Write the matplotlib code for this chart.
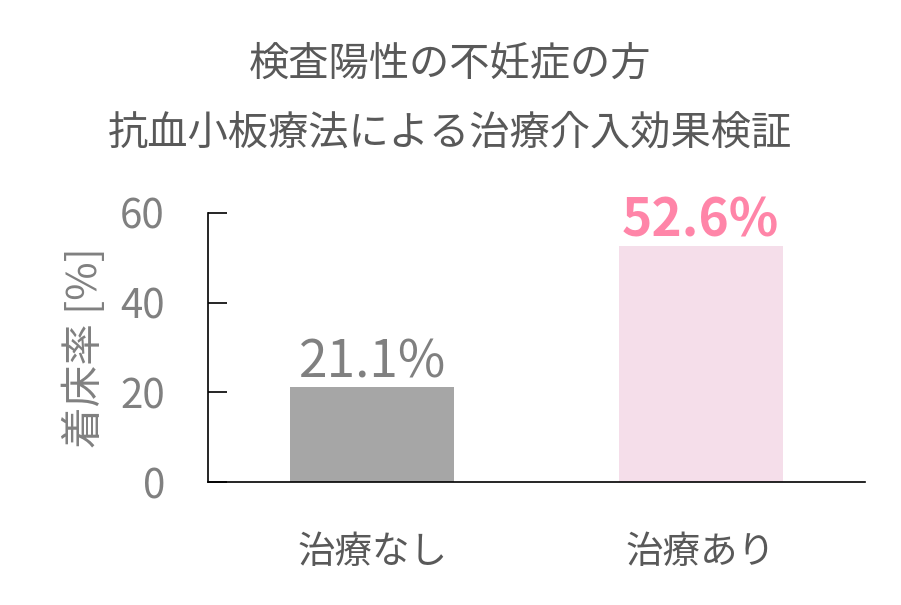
import matplotlib
matplotlib.use('Agg')
import matplotlib.pyplot as plt

plt.rcParams['font.family'] = ['Noto Sans CJK JP', 'DejaVu Sans']

# データ
categories = ['治療なし', '治療あり']
values = [21.1, 52.6]
value_labels = ['21.1%', '52.6%']
yticks = [0, 20, 40, 60]

bar_colors = ['#A6A6A6', '#F5DEEA']
label_colors = ['#808080', '#FF85A8']
label_weights = ['normal', 'bold']

fig = plt.figure(figsize=(9.01, 6.05), dpi=100, facecolor='white')
ax = fig.add_axes([0.2309, 0.2033, 0.729, 0.4447])

x = list(range(len(categories)))
ax.bar(x, values, width=0.5, color=bar_colors)

for xi, v, lab, c, w in zip(x, values, value_labels, label_colors, label_weights):
    ax.annotate(lab, xy=(xi, v), xytext=(0, 7), textcoords='offset points',
                ha='center', va='baseline', fontsize=37, color=c, fontweight=w)

ax.set_xlim(-0.5, 1.5)
ax.set_ylim(0, 60)
ax.set_yticks(yticks)
ax.set_yticklabels([str(t) for t in yticks])
ax.set_xticks(x)
ax.set_xticklabels(categories)

ax.spines['top'].set_visible(False)
ax.spines['right'].set_visible(False)
ax.spines['left'].set_linewidth(1.2)
ax.spines['bottom'].set_linewidth(1.2)

ax.tick_params(axis='y', direction='in', length=14, width=1.2, pad=31,
               labelsize=29, labelcolor='#808080')
ax.tick_params(axis='x', length=0, pad=37, labelsize=27, labelcolor='#595959')

ax.set_ylabel('着床率 [%]', fontsize=30, color='#808080', labelpad=10)

fig.text(0.5, 0.893, '検査陽性の不妊症の方', ha='center', va='center',
         fontsize=29, color='#595959')
fig.text(0.5, 0.780, '抗血小板療法による治療介入効果検証', ha='center', va='center',
         fontsize=29, color='#595959')

plt.savefig('out.png', dpi=100, facecolor='white')
plt.close()
